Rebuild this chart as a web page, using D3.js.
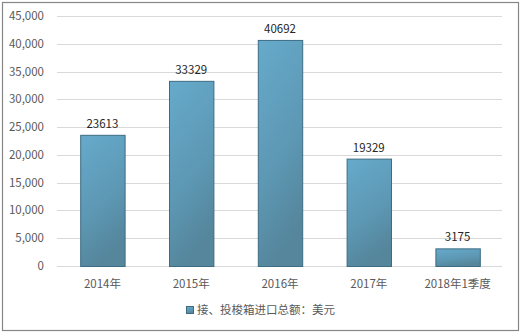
<!DOCTYPE html>
<html>
<head>
<meta charset="utf-8">
<script src="https://cdn.jsdelivr.net/npm/d3@7"></script>
<style>
  body { margin: 0; background: #fff; }
  text { font-family: "Microsoft YaHei", "Noto Sans CJK SC", sans-serif; }
</style>
</head>
<body>
<div id="chart"></div>
<script>
var categories = ["2014年", "2015年", "2016年", "2017年", "2018年1季度"];
var values = [23613, 33329, 40692, 19329, 3175];
var yTicks = [0, 5000, 10000, 15000, 20000, 25000, 30000, 35000, 40000, 45000];
var seriesName = "接、投梭箱进口总额：美元";

var W = 523, H = 335;
var margin = {top: 16, right: 21, bottom: 69, left: 57};

var svg = d3.select("#chart").append("svg")
  .attr("width", W).attr("height", H);

// outer frame
svg.append("rect")
  .attr("x", 2.5).attr("y", 2.5)
  .attr("width", 516).attr("height", 328)
  .attr("fill", "#fff").attr("stroke", "#868686").attr("stroke-width", 1.2);

var defs = svg.append("defs");
var grad = defs.append("linearGradient")
  .attr("id", "barGrad")
  .attr("x1", "0%").attr("y1", "0%").attr("x2", "30%").attr("y2", "100%");
grad.append("stop").attr("offset", "0%").attr("stop-color", "#66aacb");
grad.append("stop").attr("offset", "60%").attr("stop-color", "#5d98b4");
grad.append("stop").attr("offset", "100%").attr("stop-color", "#55869c");

var x = d3.scaleBand()
  .domain(categories)
  .range([margin.left + 1, W - margin.right])
  .paddingInner(0.5).paddingOuter(0.25);

var y = d3.scaleLinear()
  .domain([0, 45000])
  .range([H - margin.bottom, margin.top]);

// gridlines
svg.append("g")
  .selectAll("line")
  .data(yTicks)
  .enter()
  .append("line")
    .attr("x1", margin.left)
    .attr("x2", W - margin.right)
    .attr("y1", function(d){ return Math.round(y(d)) + 0.5 })
    .attr("y2", function(d){ return Math.round(y(d)) + 0.5 })
    .attr("stroke", "#d9d9d9")
    .attr("stroke-width", 1);

// y tick labels
svg.append("g")
  .selectAll("text")
  .data(yTicks)
  .enter()
  .append("text")
    .attr("x", 44)
    .attr("y", function(d){ return y(d) + 4 })
    .attr("text-anchor", "end")
    .attr("font-size", "11.5px")
    .attr("fill", "#595959")
    .text(function(d){ return d3.format(",")(d) });

// bars
svg.append("g")
  .selectAll("rect")
  .data(values)
  .enter()
  .append("rect")
    .attr("x", function(d, i){ return x(categories[i]) + 0.5 })
    .attr("y", function(d){ return y(d) + 0.5 })
    .attr("width", x.bandwidth())
    .attr("height", function(d){ return y(0) - y(d) })
    .attr("fill", "url(#barGrad)")
    .attr("stroke", "#3e6c82")
    .attr("stroke-width", 1);

// value labels
svg.append("g")
  .selectAll("text")
  .data(values)
  .enter()
  .append("text")
    .attr("x", function(d, i){ return x(categories[i]) + x.bandwidth() / 2 })
    .attr("y", function(d){ return y(d) - 7 })
    .attr("text-anchor", "middle")
    .attr("font-size", "11.5px")
    .attr("fill", "#262626")
    .text(function(d){ return d });

// x labels
svg.append("g")
  .selectAll("text")
  .data(categories)
  .enter()
  .append("text")
    .attr("x", function(d){ return x(d) + x.bandwidth() / 2 })
    .attr("y", 288)
    .attr("text-anchor", "middle")
    .attr("font-size", "11.5px")
    .attr("fill", "#595959")
    .text(function(d){ return d });

// legend
svg.append("rect")
  .attr("x", 186.5).attr("y", 306.5)
  .attr("width", 7).attr("height", 7)
  .attr("fill", "url(#barGrad)")
  .attr("stroke", "#3e6c82");
svg.append("text")
  .attr("x", 197).attr("y", 314)
  .attr("font-size", "11.5px")
  .attr("fill", "#595959")
  .text(seriesName);
</script>
</body>
</html>
